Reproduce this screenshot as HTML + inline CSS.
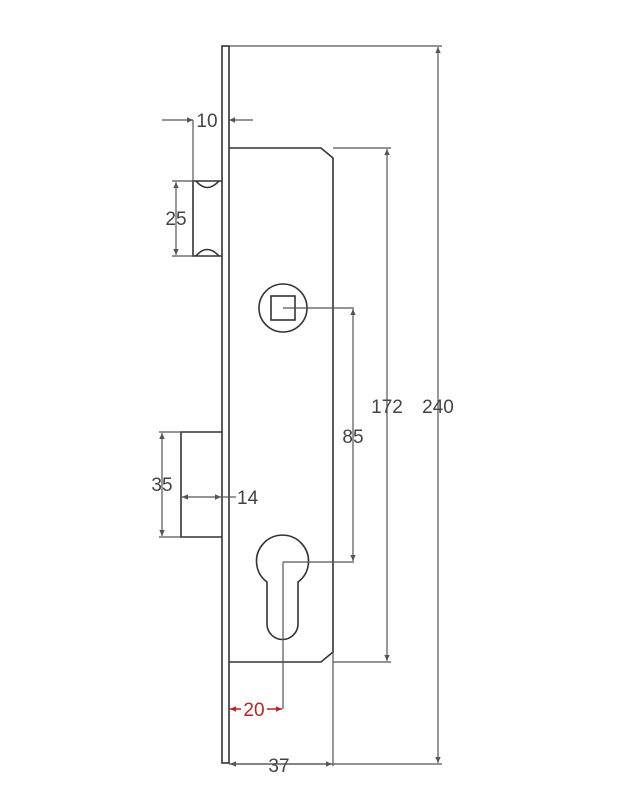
<!DOCTYPE html>
<html><head><meta charset="utf-8"><style>
html,body{margin:0;padding:0;background:#fff;}
svg{display:block;}
text{font-family:"Liberation Sans",sans-serif;font-size:19px;fill:#444;}
</style></head><body>
<svg width="632" height="800" viewBox="0 0 632 800" xmlns="http://www.w3.org/2000/svg">
<defs>
<marker id="a" viewBox="0 0 10 10" refX="10" refY="5" markerWidth="13" markerHeight="6" orient="auto-start-reverse" markerUnits="userSpaceOnUse"><path d="M0,0.5 L10,5 L0,9.5 Z" fill="#555"/></marker>
<marker id="r" viewBox="0 0 10 10" refX="10" refY="5" markerWidth="13" markerHeight="6" orient="auto-start-reverse" markerUnits="userSpaceOnUse"><path d="M0,0.5 L10,5 L0,9.5 Z" fill="#b22"/></marker>
</defs>
<g fill="none" stroke="#333" stroke-width="1.6">
<rect x="222" y="46" width="7" height="717"/>
<path d="M229,148 L321,148 L333,158 L333,652 L321,662 L229,662"/>
<path d="M222,181 L193,181 L193,256 L222,256"/>
<path d="M196,181 Q207,194 219,181"/>
<path d="M196,256 Q207,243 219,256"/>
<path d="M222,432 L181,432 L181,537 L222,537"/>
<circle cx="283" cy="308" r="24"/>
<rect x="271" y="296" width="24" height="24"/>
<path d="M267,582 A26,26 0 1 1 298,582 L298,624 A15.5,15.5 0 0 1 267,624 Z"/>
</g>
<g fill="none" stroke="#555" stroke-width="1.2">
<line x1="229" y1="46" x2="442" y2="46"/>
<line x1="333" y1="148" x2="391" y2="148"/>
<line x1="333" y1="662" x2="391" y2="662"/>
<line x1="229" y1="764" x2="442" y2="764"/>
<line x1="333" y1="652" x2="333" y2="766"/>
<line x1="438" y1="47" x2="438" y2="763" marker-start="url(#a)" marker-end="url(#a)"/>
<line x1="387" y1="149" x2="387" y2="661" marker-start="url(#a)" marker-end="url(#a)"/>
<line x1="283" y1="308" x2="354" y2="308"/>
<line x1="283" y1="562" x2="354" y2="562"/>
<line x1="353" y1="309" x2="353" y2="561" marker-start="url(#a)" marker-end="url(#a)"/>
<line x1="230" y1="764" x2="332" y2="764" marker-start="url(#a)" marker-end="url(#a)"/>
<line x1="162" y1="120" x2="193" y2="120" marker-end="url(#a)"/>
<line x1="193" y1="120" x2="193" y2="181"/>
<line x1="253" y1="120" x2="229" y2="120" marker-end="url(#a)"/>
<line x1="172" y1="181" x2="193" y2="181"/>
<line x1="172" y1="256" x2="193" y2="256"/>
<line x1="176" y1="182" x2="176" y2="255" marker-start="url(#a)" marker-end="url(#a)"/>
<line x1="159" y1="432" x2="181" y2="432"/>
<line x1="159" y1="537" x2="181" y2="537"/>
<line x1="162" y1="433" x2="162" y2="536" marker-start="url(#a)" marker-end="url(#a)"/>
<line x1="182" y1="497" x2="221" y2="497" marker-start="url(#a)" marker-end="url(#a)"/>
<line x1="222" y1="497" x2="236" y2="497"/>
<line x1="283" y1="562" x2="283" y2="709"/>
</g>
<line x1="230" y1="709" x2="282" y2="709" stroke="#b22" stroke-width="1.4" marker-start="url(#r)" marker-end="url(#r)"/>
<rect x="241" y="699" width="26" height="20" fill="#fff"/>
<text x="254" y="716" text-anchor="middle" style="fill:#b22">20</text>
<rect x="196" y="110" width="24" height="20" fill="#fff"/>
<text x="207" y="127" text-anchor="middle">10</text>
<text x="176" y="225" text-anchor="middle">25</text>
<text x="162" y="491" text-anchor="middle">35</text>
<text x="237" y="504">14</text>
<text x="353" y="443" text-anchor="middle">85</text>
<text x="387" y="413" text-anchor="middle">172</text>
<text x="438" y="413" text-anchor="middle">240</text>
<text x="279" y="772" text-anchor="middle">37</text>
</svg>
</body></html>
